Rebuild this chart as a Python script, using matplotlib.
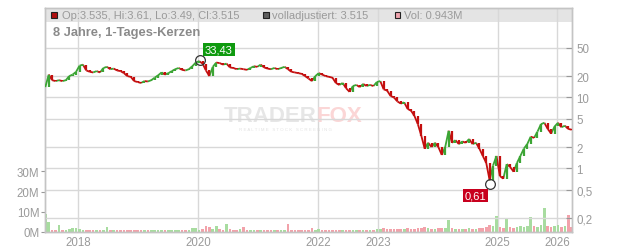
import matplotlib
matplotlib.use("Agg")
import matplotlib.pyplot as plt
from matplotlib.patches import Rectangle
from matplotlib.collections import LineCollection
import matplotlib.dates as mdates
import pandas as pd

plt.rcParams['font.family'] = ['Liberation Sans', 'DejaVu Sans']

W, H = 632, 253

# closes, every three weeks
close = [14, 21, 17.5, 17, 17.5, 17, 17.5, 20, 21, 23,
         28, 29, 24, 23, 22.5, 23.5, 22.5, 26, 27, 25,
         25.5, 24, 23.5, 22, 20, 19.5, 17, 16.5, 16, 17,
         16.8, 17.5, 19, 20.5, 22.5, 21, 22, 23.5, 25, 26,
         24.5, 24, 25, 27.5, 31, 32.5, 30, 24, 20, 27,
         31, 30.5, 29, 30, 26.5, 26, 25, 25.5, 25, 24.5,
         26, 27.5, 27, 29, 26.5, 25.5, 25, 26, 25, 26,
         27, 25, 23, 22.5, 22, 21.5, 20, 18.5, 17, 20,
         22, 21, 20, 19.5, 19, 16, 15, 16, 13.5, 12,
         14.5, 15, 14, 15.5, 14.5, 15, 14.5, 16.5, 17, 13,
         12.5, 10.5, 10, 8.8, 8.2, 8.5, 6.9, 6.5, 5.5, 4.2,
         2.9, 1.9, 2.3, 2.0, 2.3, 2.0, 1.55, 2.0, 3.4, 2.3,
         2.5, 2.2, 2.4, 2.3, 2.6, 2.2, 2.3, 1.9, 1.5, 1.2,
         0.68, 1.1, 1.5, 0.78, 0.72, 1.15, 1.05, 0.9, 1.2, 1.5,
         1.9, 2.2, 2.8, 2.7, 3.3, 4.2, 4.4, 3.6, 3.1, 3.9,
         4.4, 3.8, 4.0, 3.6, 3.515]

# volume in millions
volume = [9.0, 5.0, 1.2, 1.0, 3.3, 0.8, 0.9, 1.5, 2.0, 1.8,
          1.5, 1.2, 0.9, 1.0, 0.8, 0.9, 0.8, 1.0, 2.5, 0.9,
          0.8, 0.8, 1.0, 0.8, 0.9, 1.0, 0.8, 0.9, 0.8, 0.8,
          0.9, 0.8, 1.0, 0.9, 0.8, 0.8, 0.9, 0.8, 0.9, 1.0,
          0.9, 1.2, 1.0, 1.8, 2.0, 1.2, 1.6, 2.8, 2.5, 1.6,
          3.0, 1.5, 1.2, 4.0, 1.5, 1.2, 1.0, 1.6, 2.4, 1.0,
          0.9, 0.9, 0.8, 0.9, 0.8, 0.9, 0.8, 0.9, 0.8, 0.9,
          0.8, 4.0, 0.9, 1.0, 0.9, 0.8, 1.0, 0.9, 1.8, 1.0,
          1.6, 1.0, 1.2, 0.9, 1.0, 1.1, 1.0, 1.2, 1.1, 1.0,
          1.1, 1.0, 1.2, 1.1, 1.0, 1.2, 1.1, 1.5, 1.4, 2.0,
          1.5, 1.4, 1.6, 1.4, 1.3, 1.5, 1.8, 1.6, 1.5, 2.2,
          2.0, 2.5, 1.8, 1.6, 1.5, 1.8, 2.0, 2.2, 6.0, 2.0,
          1.5, 1.6, 1.4, 1.5, 1.8, 1.6, 1.5, 2.0, 2.2, 2.5,
          3.5, 3.0, 8.0, 2.5, 2.0, 6.4, 2.5, 2.0, 2.3, 3.0,
          2.5, 3.0, 7.4, 3.0, 2.5, 3.5, 11.8, 3.0, 2.5, 3.0,
          3.4, 2.5, 3.0, 8.4, 2.5]

first_day = "2017-06-13"
last_day = "2026-03-29"
x_start, x_end = "2017-06-11", "2026-03-31"

price_ticks = [50, 20, 10, 5, 2, 1, 0.5, 0.2]
price_labels = ["50", "20", "10", "5", "2", "1", "0,5", "0,2"]
vol_ticks = [0, 10, 20, 30]
vol_labels = ["0M", "10M", "20M", "30M"]
year_ticks = ["2018-01-01", "2020-01-01", "2022-01-01", "2023-01-01", "2025-01-01", "2026-01-01"]
year_labels = ["2018", "2020", "2022", "2023", "2025", "2026"]

high_day, high_val = "2020-01-12", 33.43
low_day, low_val = "2024-11-15", 0.61

header = ["Op:3.535, Hi:3.61, Lo:3.49, Cl:3.515", "volladjustiert: 3.515", "Vol: 0.943M"]
title = "8 Jahre, 1-Tages-Kerzen"

RED = '#c40f0f'
GREEN = '#3ca535'
GRID = '#d8d8d8'
SPINE = '#c4c4c4'
TXT = '#9a9a9a'


def fx(x):
    return x / W


def fy(y):
    return 1 - y / H


dates = pd.date_range(first_day, last_day, periods=len(close))
opens = [close[0]] + close[:-1]
up = [c >= o for c, o in zip(close, opens)]

fig = plt.figure(figsize=(W / 100, H / 100), dpi=100)
ax = fig.add_axes([fx(45), fy(233), fx(572) - fx(45), fy(9) - fy(233)])
ax2 = ax.twinx()

# volume (left axis)
vcol = ['#a8dca0' if u else '#f2a2aa' for u in up]
ax.bar(dates, volume, width=16, color=vcol, linewidth=0, zorder=2)
ax.set_ylim(0, 110.8)
ax.set_yticks(vol_ticks)
ax.set_yticklabels(vol_labels)
ax.set_xlim(pd.Timestamp(x_start), pd.Timestamp(x_end))
ax.set_xticks(pd.to_datetime(year_ticks))
ax.set_xticklabels(year_labels)
ax.tick_params(axis='x', length=0, pad=3, labelsize=8.3, labelcolor=TXT)
ax.tick_params(axis='y', length=3, width=0.8, color='#999999', pad=1,
               labelsize=8.3, labelcolor=TXT)
ax.grid(axis='x', color=GRID, linewidth=1)
ax.set_axisbelow(True)

# header band
ax.add_patch(Rectangle((fx(45), fy(23)), fx(572) - fx(45), fy(9) - fy(23),
                       transform=fig.transFigure, facecolor='#e4e4e4',
                       edgecolor='none', zorder=0))

# watermark
ax.text(fx(317), fy(116.5), "TRADER", transform=fig.transFigure, ha='right', va='center',
        fontsize=16, fontweight='bold', color='#e6e6e6', zorder=1)
ax.text(fx(317), fy(116.5), "FOX", transform=fig.transFigure, ha='left', va='center',
        fontsize=16, fontweight='bold', color='#fbd6d6', zorder=1)
ax.text(fx(285), fy(130), "R E A L T I M E   S T O C K   S C R E E N I N G",
        transform=fig.transFigure, ha='center', va='center',
        fontsize=3.2, color='#e2e2e2', zorder=1)

# price (right axis, log)
ax2.set_yscale('log')
ax2.set_ylim(0.1273, 182)
ax2.set_yticks(price_ticks)
ax2.set_yticklabels(price_labels)
ax2.yaxis.set_minor_locator(matplotlib.ticker.NullLocator())
ax2.tick_params(axis='y', direction='in', length=4, width=0.8, color='#999999',
                pad=3, labelsize=8.3, labelcolor=TXT)
ax2.grid(axis='y', color=GRID, linewidth=1)
ax2.set_axisbelow(True)

ccol = [GREEN if u else RED for u in up]
xn = mdates.date2num(dates)
segs = [[(xn[i - 1], close[i - 1]), (xn[i], close[i])] for i in range(1, len(close))]
ax2.add_collection(LineCollection(segs, colors=ccol[1:], linewidths=1.3, zorder=3))
lo = [min(o, c) for o, c in zip(opens, close)]
hi = [max(o, c) for o, c in zip(opens, close)]
ax2.vlines(dates, lo, hi, colors=ccol, linewidth=1.6, zorder=3)

for a in (ax, ax2):
    for s in a.spines.values():
        s.set_color(SPINE)
        s.set_linewidth(1)

# high / low markers
ax2.plot([pd.Timestamp(high_day)], [high_val], 'o', ms=7, mfc='none', mec='#333333',
         mew=0.9, zorder=4)
ax2.plot([pd.Timestamp(low_day)], [low_val], 'o', ms=7, mfc='none', mec='#333333',
         mew=0.9, zorder=4)
ax2.annotate("33,43", xy=(pd.Timestamp(high_day), high_val), xytext=(19, 10.5),
             textcoords='offset pixels', ha='center', va='center', fontsize=8,
             color='white', zorder=5,
             bbox=dict(boxstyle='square,pad=0.15', facecolor='#0f9a0f', edgecolor='none'))
ax2.annotate("0,61", xy=(pd.Timestamp(low_day), low_val), xytext=(-14.5, -11.5),
             textcoords='offset pixels', ha='center', va='center', fontsize=8,
             color='white', zorder=5,
             bbox=dict(boxstyle='square,pad=0.15', facecolor='#c8001e', edgecolor='none'))

# header legend
sq = [(51, '#b01010'), (263, '#5e5e5e'), (394.5, '#f0a4ae')]
tx = [62, 272, 404]
for (x0, col), x1, s in zip(sq, tx, header):
    fig.add_artist(Rectangle((fx(x0), fy(19.3)), 5.6 / W, 6.4 / H, transform=fig.transFigure,
                             facecolor=col, edgecolor='#222222', linewidth=0.8))
    fig.text(fx(x1), fy(16), s, ha='left', va='center', fontsize=8, color=TXT)

fig.text(fx(53), fy(33), title, ha='left', va='center', fontsize=9.3,
         fontweight='bold', color='#8a8a8a')

fig.savefig("out.png", dpi=100)
